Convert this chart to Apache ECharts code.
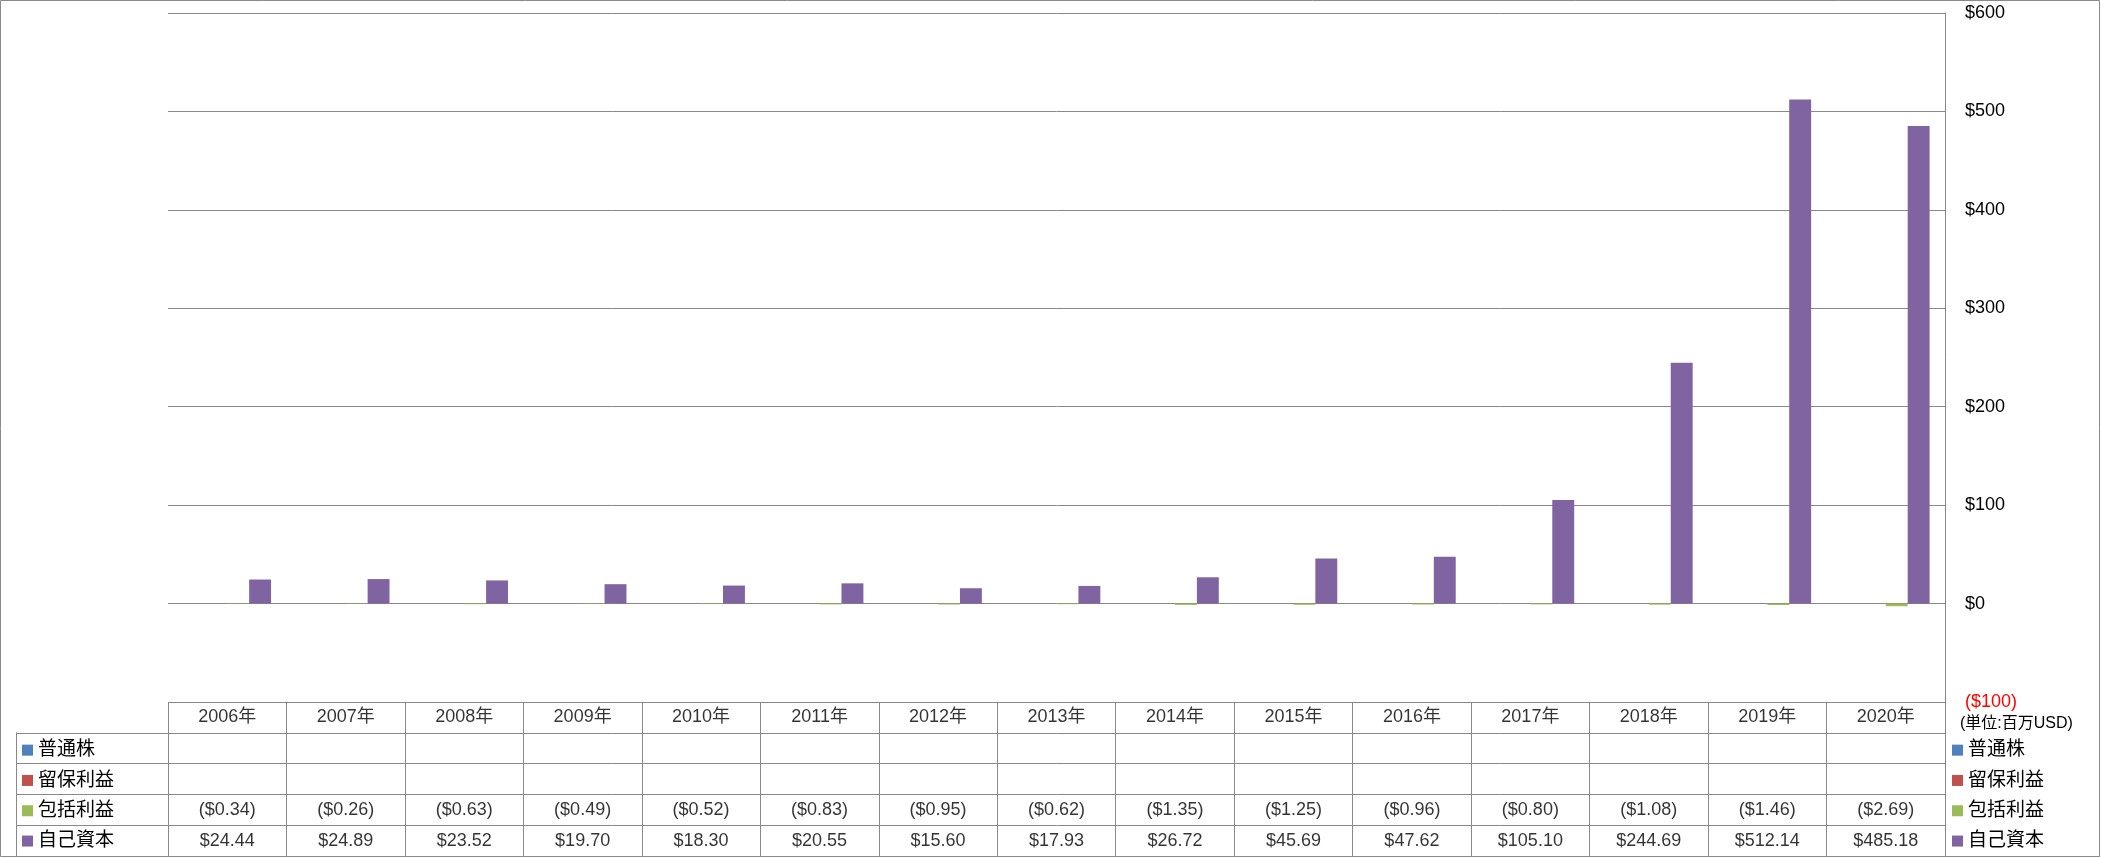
<!DOCTYPE html>
<html>
<head>
<meta charset="utf-8">
<script src="https://cdn.jsdelivr.net/npm/echarts@6/dist/echarts.min.js"></script>
<style>
html,body{margin:0;padding:0;background:#fff;}
#c{width:2101px;height:858px;}
</style>
</head>
<body>
<div id="c"></div>
<script>
const years = ['2006年','2007年','2008年','2009年','2010年','2011年','2012年','2013年','2014年','2015年','2016年','2017年','2018年','2019年','2020年'];
const seriesNames = ['普通株','留保利益','包括利益','自己資本'];
const commonStock = [null,null,null,null,null,null,null,null,null,null,null,null,null,null,null];
const retainedEarnings = [null,null,null,null,null,null,null,null,null,null,null,null,null,null,null];
const comprehensiveIncome = [-0.34,-0.26,-0.63,-0.49,-0.52,-0.83,-0.95,-0.62,-1.35,-1.25,-0.96,-0.80,-1.08,-1.46,-2.69];
const equity = [24.44,24.89,23.52,19.70,18.30,20.55,15.60,17.93,26.72,45.69,47.62,105.10,244.69,512.14,485.18];
const unitLabel = '(単位:百万USD)';

const colors = ['#4F81BD','#C0504D','#9BBB59','#8064A2'];
const gridColor = '#898989';
const FONT = '"Liberation Sans", "Noto Sans CJK JP", sans-serif';

function money(v){
  if (v === null || v === undefined) return '';
  return v < 0 ? '($' + (-v).toFixed(2) + ')' : '$' + v.toFixed(2);
}

const seriesData = [commonStock, retainedEarnings, comprehensiveIncome, equity];

// table cells: row 0 header, rows 1..4 series
const tableCells = [];
years.forEach((y, i) => tableCells.push({value: [i, 0], txt: y}));
seriesData.forEach((arr, r) => {
  arr.forEach((v, i) => {
    if (v !== null) tableCells.push({value: [i, r + 1], txt: money(v)});
  });
});

const chart = echarts.init(document.getElementById('c'));
const legendCommon = {
  orient: 'vertical',
  top: 735,
  padding: 0,
  itemGap: 0,
  itemWidth: 11,
  itemHeight: 11,
  icon: 'rect',
  data: seriesNames,
  textStyle: {fontFamily: FONT, fontSize: 19, color: '#000', lineHeight: 30.3},
  selectedMode: false
};

chart.setOption({
  animation: false,
  backgroundColor: '#fff',
  color: colors,
  textStyle: {fontFamily: FONT},
  title: {
    text: unitLabel,
    left: 1960, top: 716, padding: 0,
    textStyle: {fontFamily: FONT, fontSize: 16, fontWeight: 'normal', color: '#000'}
  },
  legend: [
    Object.assign({}, legendCommon, {left: 22}),
    Object.assign({}, legendCommon, {left: 1952})
  ],
  graphic: [{
    type: 'rect', silent: true,
    shape: {x: 0.5, y: 0.5, width: 2099, height: 856},
    style: {fill: 'none', stroke: gridColor, lineWidth: 1}
  }],
  grid: [
    {left: 168, right: 156, top: 13, height: 689},
    {left: 168, right: 156, top: 702, height: 154},
    {left: 16, width: 152, top: 732.8, height: 123.2}
  ],
  xAxis: [
    {type: 'category', gridIndex: 0, data: years,
     axisLine: {show: false}, axisTick: {show: false}, axisLabel: {show: false}},
    {type: 'category', gridIndex: 1, data: years,
     axisLine: {show: false}, axisTick: {show: false}, axisLabel: {show: false},
     splitLine: {show: true, lineStyle: {color: gridColor, width: 1}}},
    {type: 'value', gridIndex: 2, show: false}
  ],
  yAxis: [
    {type: 'value', gridIndex: 0, position: 'right', min: -100, max: 600, interval: 100,
     axisLine: {show: true, lineStyle: {color: gridColor, width: 1}},
     axisTick: {show: false},
     splitLine: {show: true, lineStyle: {color: gridColor, width: 1}},
     axisLabel: {
       margin: 20, fontSize: 18, color: '#000', fontFamily: FONT,
       formatter: v => v < 0 ? '{neg|($' + (-v) + ')}' : '$' + v,
       rich: {neg: {color: '#FF0000', fontSize: 18, fontFamily: FONT}}
     }},
    {type: 'category', gridIndex: 1, inverse: true, data: ['', ...seriesNames],
     axisLine: {show: false}, axisTick: {show: false}, axisLabel: {show: false},
     splitLine: {show: true, lineStyle: {color: gridColor, width: 1}}},
    {type: 'category', gridIndex: 2, inverse: true, data: seriesNames,
     axisLine: {show: true, lineStyle: {color: gridColor, width: 1}},
     axisTick: {show: false}, axisLabel: {show: false},
     splitLine: {show: true, lineStyle: {color: gridColor, width: 1}}}
  ],
  series: [
    ...seriesNames.map((n, k) => ({
      name: n, type: 'bar', xAxisIndex: 0, yAxisIndex: 0,
      data: seriesData[k], barGap: '0%', barCategoryGap: '26%',
      itemStyle: {color: colors[k]}, silent: true
    })),
    {
      type: 'scatter', xAxisIndex: 1, yAxisIndex: 1, symbolSize: 0, silent: true,
      data: tableCells,
      label: {
        show: true, position: 'inside', fontSize: 18, color: '#000', fontFamily: FONT,
        formatter: p => p.data.txt
      }
    }
  ]
});
</script>
</body>
</html>
